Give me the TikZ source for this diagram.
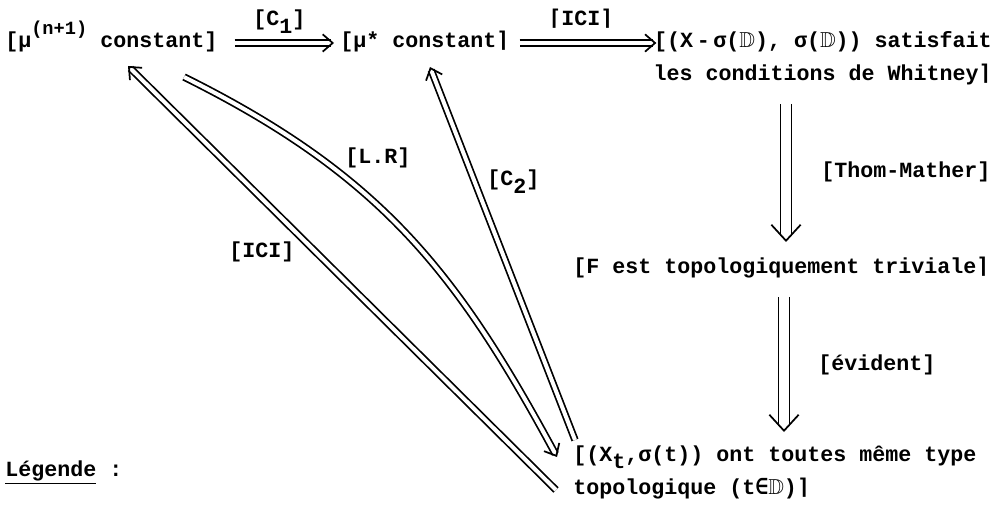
\documentclass[tikz,border=0pt]{standalone}
\usepackage{fontspec}
\usepackage{amssymb}
\setmainfont{Liberation Mono}
\newfontfamily\dvsm{DejaVu Sans Mono}
\usetikzlibrary{arrows.meta,calc}
\newcommand{\myrc}{{\dvsm\bfseries ⌉}}
\newcommand{\mylc}{{\dvsm\bfseries ⌈}}
\newcommand{\myin}{{\dvsm\bfseries ∈}}
\newcommand{\bbD}{$\mathbb{D}$}
\newcommand{\lowsub}[1]{\raisebox{-0.35em}{#1}}
\begin{document}
\begin{tikzpicture}[x=0.75pt,y=-0.75pt,
  txt/.style={inner sep=0pt, font=\bfseries\fontsize{16.25pt}{24.75pt}\selectfont},
  dbl/.style={double, double distance=3pt, line width=1.3pt, shorten >=2.6pt},
  bigdbl/.style={double, double distance=7pt, line width=1.3pt, shorten >=4.6pt},
  headS/.style={line width=1.3pt, -{Straight Barb[length=7.5pt,width=13pt]}},
  headB/.style={line width=1.3pt, -{Straight Barb[length=12pt,width=22pt]}}]
\useasboundingbox (0,0) rectangle (998,505);

% statements (multi-line nodes: base = last line)
\node[txt, anchor=base west] (n1) at (5,48) {[μ\raisebox{0.6em}{\fontsize{14pt}{14pt}\selectfont(n+1)} constant]};
\node[txt, anchor=base west] (n2) at (340,48) {[μ* constant\myrc};
\node[txt, anchor=base east, align=right] (n3) at (992,81) {[(X\,-\,σ(\bbD), σ(\bbD)) satisfait\\les conditions de Whitney\myrc};
\node[txt, anchor=base west] (n4) at (573,274) {[F est topologiquement triviale\myrc};
\node[txt, anchor=base west, align=left] (n5) at (573,494) {[(X\lowsub{t},σ(t)) ont toutes même type\\topologique (t\myin\bbD)\myrc};
\node[txt, anchor=base west] (leg) at (5,476) {\underline{Légende} :};

% labels
\node[txt, anchor=base west] (lc1) at (253,26) {[C\lowsub{1}]};
\node[txt, anchor=base west] (lici1) at (548,26) {\mylc ICI\myrc};
\node[txt, anchor=base west] (ltm) at (821,178) {[Thom-Mather]};
\node[txt, anchor=base west] (lev) at (818,370) {[évident]};
\node[txt, anchor=base west] (llr) at (345,164) {[L.R]};
\node[txt, anchor=base west] (lc2) at (487,186) {[C\lowsub{2}]};
\node[txt, anchor=base west] (lici2) at (229,258) {[ICI]};

% connector ends, attached to the statements
\coordinate (c1s) at ($(n1.base east)+(17,-5)$);
\coordinate (c1e) at ($(n2.base west)+(-6,-5)$);
\coordinate (i1s) at ($(n2.base east)+(10,-5)$);
\coordinate (i1e) at ($(n2.base east -| n3.west)+(3,-5)$);
\coordinate (tms) at ($(n4.base west |- n3.south)+(213,18)$);
\coordinate (tme) at ($(n4.base west)+(213,-32)$);
\coordinate (evs) at ($(n4.base west)+(211,23)$);
\coordinate (eve) at ($(n5.base west)+(211,-62)$);
\coordinate (i2s) at ($(n5.base west)+(-17,-4)$);
\coordinate (i2e) at ($(n1.base west)+(123,18)$);
\coordinate (c2s) at ($(n5.base west)+(2,-54)$);
\coordinate (c2e) at ($(n2.base west)+(90,19)$);
\coordinate (lrs) at ($(n1.base west)+(179,29)$);
\coordinate (lre) at ($(n5.base west)+(-16,-37)$);
\coordinate (lrc) at ($(lre)+(-100,-185)$);

% horizontal implications
\draw[dbl] (c1s) -- (c1e);
\draw[headS] ($(c1e)!1pt!(c1s)$) -- (c1e);
\draw[dbl] (i1s) -- (i1e);
\draw[headS] ($(i1e)!1pt!(i1s)$) -- (i1e);

% vertical implications
\draw[bigdbl] (tms) -- (tme);
\draw[headB] ($(tme)!1pt!(tms)$) -- (tme);
\draw[bigdbl] (evs) -- (eve);
\draw[headB] ($(eve)!1pt!(evs)$) -- (eve);

% diagonal implications
\draw[dbl] (i2s) -- (i2e);
\draw[headS] ($(i2e)!1pt!(i2s)$) -- (i2e);
\draw[dbl] (c2s) -- (c2e);
\draw[headS] ($(c2e)!1pt!(c2s)$) -- (c2e);
\draw[dbl] (lrs) .. controls +(197,98) and (lrc) .. (lre);
\draw[headS] ($(lre)!1pt!(lrc)$) -- (lre);
\end{tikzpicture}
\end{document}
